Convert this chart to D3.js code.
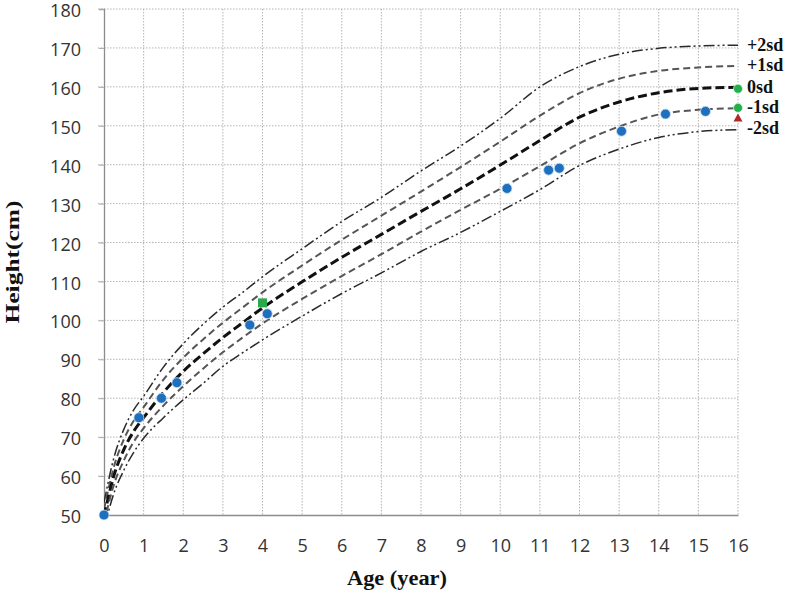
<!DOCTYPE html>
<html><head><meta charset="utf-8">
<script src="https://cdn.jsdelivr.net/npm/d3@7"></script>
<style>body{margin:0;background:#fff}</style>
</head><body>
<svg id="chart" width="787" height="592"></svg>
<script>
// Reference ages (years)
const refAges = [0,0.25,0.5,0.75,1,1.5,2,2.5,3,3.5,4,5,6,7,8,9,10,11,12,13,14,15,16];
// Reference curves (cm)
const sdMinus2 = [46.4,55.6,61.5,66.1,69.7,75.0,79.6,83.8,88.2,91.7,95.0,101.1,106.9,112.2,117.7,122.6,128.0,133.6,139.8,144.0,147.0,148.5,149.0];
const sdMinus1 = [48.0,57.8,64.0,68.8,72.3,78.1,83.1,87.6,91.8,95.6,99.2,105.5,111.4,117.0,122.8,128.4,133.8,139.6,145.5,149.8,152.9,154.1,154.5];
const sd0      = [49.7,60.1,66.8,71.5,75.0,81.5,86.9,91.4,95.6,99.4,103.2,109.9,116.2,122.1,128.0,133.8,139.9,146.2,152.2,156.1,158.5,159.6,159.9];
const sdPlus1  = [51.4,62.4,69.4,74.2,77.7,84.8,90.4,95.1,99.4,103.3,107.2,114.1,120.7,126.9,133.1,139.4,145.9,152.6,158.4,162.1,164.1,165.0,165.4];
const sdPlus2  = [53.2,64.7,72.0,77.0,80.5,88.0,94.0,99.0,103.4,107.2,111.2,118.4,125.4,131.6,138.4,144.8,151.9,160.0,165.2,168.4,169.9,170.5,170.7];
const curveLabels = ["+2sd","+1sd","0sd","-1sd","-2sd"];

// Patient measurements
const patientAge    = [0, 0.88, 1.45, 1.84, 3.68, 4.12, 10.17, 11.22, 11.49, 13.06, 14.17, 15.18];
const patientHeight = [50, 75.0, 80.0, 84.0, 98.8, 101.7, 133.9, 138.6, 139.1, 148.6, 153.0, 153.7];
// Other markers
const squareAge = [4.0],  squareHeight = [104.5];
const greenAge  = [16, 16], greenHeight = [159.5, 154.6];
const triAge    = [16],   triHeight = [151.8];

const xTicks = d3.range(0, 17, 1);
const yTicks = d3.range(50, 181, 10);

const svg = d3.select("#chart");
const x = d3.scaleLinear().domain([0,16]).range([104,738]);
const y = d3.scaleLinear().domain([50,180]).range([515,9]);

// clip
svg.append("defs").append("clipPath").attr("id","clip")
  .append("rect").attr("x",104).attr("y",9).attr("width",634).attr("height",506);

// grid
const grid = svg.append("g");
grid.selectAll(".gx").data(xTicks.slice(1)).enter().append("line")
  .attr("x1",d=>x(d)).attr("x2",d=>x(d)).attr("y1",y(180)).attr("y2",y(50))
  .attr("stroke","#b4b4b4").attr("stroke-width",1).attr("stroke-dasharray","1.5,1.5");
grid.selectAll(".gy").data(yTicks.slice(1)).enter().append("line")
  .attr("x1",x(0)-6).attr("x2",x(16)).attr("y1",d=>y(d)).attr("y2",d=>y(d))
  .attr("stroke","#b4b4b4").attr("stroke-width",1).attr("stroke-dasharray","1.5,1.5");

// axes
const yAxis = d3.axisLeft(y).tickValues(yTicks).tickSize(5).tickPadding(18);
const xAxis = d3.axisBottom(x).tickValues(xTicks).tickSize(0).tickPadding(24);
const gy = svg.append("g").attr("transform",`translate(${x(0)},0)`).call(yAxis);
const gx = svg.append("g").attr("transform",`translate(0,${y(50)})`).call(xAxis);
[gx,gy].forEach(g=>{
  g.select(".domain").attr("stroke","#8c8c8c").attr("stroke-width",1.3);
  g.selectAll(".tick line").attr("stroke","#aaa");
  g.selectAll("text").attr("font-family","'Open Sans', sans-serif").attr("font-size",18).attr("fill","#333");
});
gy.selectAll("text").attr("dy","0.42em");

// curves
const line = d3.line().x(d=>x(d[0])).y(d=>y(d[1])).curve(d3.curveMonotoneX);
const curves = [
  {vals: sdPlus2, stroke:"#2a2a2a", w:1.5, dash:"11,3,2,3,2,3"},
  {vals: sdPlus1, stroke:"#555",    w:2,   dash:"7,4"},
  {vals: sd0,     stroke:"#111",    w:3,   dash:"9,4"},
  {vals: sdMinus1,stroke:"#555",    w:2,   dash:"7,4"},
  {vals: sdMinus2,stroke:"#2a2a2a", w:1.5, dash:"11,3,2,3,2,3"}
];
const cg = svg.append("g").attr("clip-path","url(#clip)");
curves.forEach(c=>{
  cg.append("path").datum(refAges.map((a,i)=>[a,c.vals[i]]))
    .attr("d",line).attr("fill","none").attr("stroke",c.stroke)
    .attr("stroke-width",c.w).attr("stroke-dasharray",c.dash);
});

// curve labels
const labelY = [45,65,87,107,128];
svg.append("g").selectAll("text").data(curveLabels).enter().append("text")
  .attr("x",747).attr("y",(d,i)=>labelY[i]).attr("dy","0.35em")
  .attr("font-family","'Liberation Serif', serif").attr("font-weight","bold")
  .attr("font-size",18).attr("fill","#111").text(d=>d);

// markers
svg.append("g").selectAll("circle").data(patientAge).enter().append("circle")
  .attr("cx",d=>x(d)).attr("cy",(d,i)=>y(patientHeight[i])).attr("r",5)
  .attr("fill","#1f6fbf").attr("stroke","#cfe3f5").attr("stroke-width",0.8);
svg.append("g").selectAll("rect").data(squareAge).enter().append("rect")
  .attr("x",d=>x(d)-4.5).attr("y",(d,i)=>y(squareHeight[i])-4.5).attr("width",9).attr("height",9)
  .attr("fill","#2aa84a");
svg.append("g").selectAll("circle").data(greenAge).enter().append("circle")
  .attr("cx",d=>x(d)).attr("cy",(d,i)=>y(greenHeight[i])).attr("r",4.5)
  .attr("fill","#22b04b").attr("stroke","#d6f0dc").attr("stroke-width",0.8);
svg.append("g").selectAll("path").data(triAge).enter().append("path")
  .attr("d",d3.symbol().type(d3.symbolTriangle).size(36))
  .attr("transform",(d,i)=>`translate(${x(d)},${y(triHeight[i])})`)
  .attr("fill","#b02a2a");

// axis titles
svg.append("text").attr("x",397).attr("y",578).attr("dy","0.35em").attr("text-anchor","middle")
  .attr("font-family","'Liberation Serif', serif").attr("font-weight","bold").attr("font-size",20)
  .attr("fill","#111").attr("textLength",100).attr("lengthAdjust","spacingAndGlyphs").text("Age (year)");
svg.append("text").attr("transform","translate(12,262) rotate(-90)").attr("dy","0.35em")
  .attr("text-anchor","middle")
  .attr("font-family","'Liberation Serif', serif").attr("font-weight","bold").attr("font-size",19)
  .attr("fill","#111").attr("textLength",123).attr("lengthAdjust","spacingAndGlyphs").text("Height(cm)");
</script>
</body></html>
